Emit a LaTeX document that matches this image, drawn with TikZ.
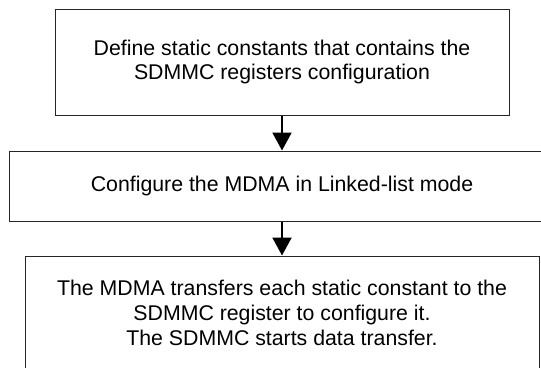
\documentclass[tikz,border=0pt]{standalone}
\usepackage{fontspec}
\setmainfont{Liberation Sans}
\usetikzlibrary{arrows.meta}
\begin{document}
\begin{tikzpicture}[x=1pt,y=-1pt,
  stepbox/.style={draw=black!85,line width=1pt,rectangle,align=center,inner sep=0pt,
    font=\fontsize{21.3}{24.8}\selectfont},
  arr/.style={line width=2.2pt,-{Triangle[width=19pt,length=18pt]}}]
\useasboundingbox (0,0) rectangle (541,367);
\clip (0,0) rectangle (541,367);
\node[stepbox,minimum width=454pt,minimum height=106pt] (b1) at (282,62)
  {Define static constants that contains the\\SDMMC registers configuration};
\node[stepbox,minimum width=545pt,minimum height=70pt] (b2) at (282,186)
  {Configure the MDMA in Linked-list mode};
\node[stepbox,minimum width=514pt,minimum height=114pt] (b3) at (282,313)
  {The MDMA transfers each static constant to the\\SDMMC register to configure it.\\The SDMMC starts data transfer.};
\draw[arr] (b1.south) -- (b2.north);
\draw[arr] (b2.south) -- (b3.north);
\end{tikzpicture}
\end{document}
